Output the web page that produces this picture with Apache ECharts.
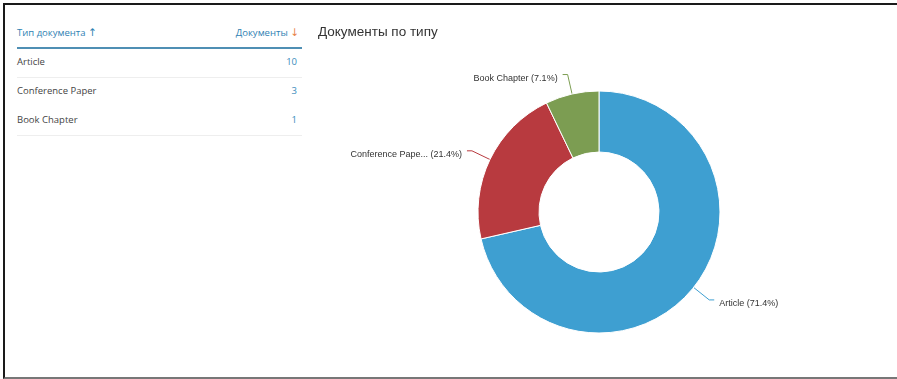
<!DOCTYPE html>
<html>
<head>
<meta charset="utf-8">
<script src="https://cdn.jsdelivr.net/npm/echarts@6/dist/echarts.min.js"></script>
<style>
  html, body { margin: 0; padding: 0; background: #fff; }
  body { width: 897px; height: 379px; position: relative; overflow: hidden; }
  .frame {
    position: absolute; left: 3px; top: 3px; width: 895px; height: 376px;
    border-left: 2px solid #1a1a1a; border-top: 2px solid #1a1a1a;
    border-bottom: 2px solid #777; box-sizing: border-box;
  }
  #chart { position: absolute; left: 0; top: 0; width: 897px; height: 379px; }
  .tbl {
    position: absolute; left: 17px; top: 23px; width: 285px;
    font-family: "Open Sans", "Noto Sans", sans-serif; font-size: 9.5px; color: #444;
  }
  .tbl .head {
    display: flex; justify-content: space-between; color: #2f82b3;
    height: 24px; line-height: 18px; border-bottom: 2px solid #4f8fb4; padding-right: 3px;
  }
  .tbl .head .arrow { font-family: "DejaVu Sans", sans-serif; font-size: 10.5px; }
  .tbl .head .arrow-up { color: #2f82b3; }
  .tbl .head .arrow-down { color: #e8834a; }
  .tbl .row {
    display: flex; justify-content: space-between; height: 29px; line-height: 26px;
    padding-bottom: 3px; padding-right: 5px; box-sizing: border-box;
  }
  .tbl .row .num { color: #3a8cbc; }
  .tbl .row.sep { border-bottom: 1px solid #eeeeee; }
</style>
</head>
<body>
<div class="frame"></div>
<div class="tbl" id="tbl"></div>
<div id="chart"></div>
<script>
// Document types and their counts
const docTypes = ['Article', 'Conference Paper', 'Book Chapter'];
const docCounts = [10, 3, 1];
const sliceColors = ['#3e9fd1', '#b83a3f', '#7c9d52'];

const headerType = 'Тип документа';
const headerCount = 'Документы';
const chartTitle = 'Документы по типу';

// Table on the left
const tbl = document.getElementById('tbl');
let html = '<div class="head"><span>' + headerType + ' <span class="arrow arrow-up">&#8593;</span></span>' +
           '<span>' + headerCount + ' <span class="arrow arrow-down">&#8595;</span></span></div>';
docTypes.forEach((name, i) => {
  const sep = (i !== 1) ? ' sep' : '';
  html += '<div class="row' + sep + '"><span>' + name + '</span><span class="num">' + docCounts[i] + '</span></div>';
});
tbl.innerHTML = html;

// Donut chart
const chart = echarts.init(document.getElementById('chart'), null, { renderer: 'canvas' });
const total = docCounts.reduce((a, b) => a + b, 0);
const shortName = n => n.length > 15 ? n.slice(0, 15) + '...' : n;

chart.setOption({
  animation: false,
  title: {
    text: chartTitle, left: 313, top: 20,
    textStyle: { fontFamily: 'Liberation Sans, Arial, sans-serif', fontSize: 13.5, fontWeight: 'normal', color: '#333' }
  },
  series: [{
    type: 'pie',
    center: [599, 212],
    radius: [60, 121],
    startAngle: 90,
    clockwise: true,
    avoidLabelOverlap: true,
    itemStyle: { borderColor: '#fff', borderWidth: 1 },
    label: {
      fontFamily: 'Liberation Sans, Arial, sans-serif', fontSize: 9, color: '#333',
      formatter: p => shortName(p.name) + ' (' + (p.value / total * 100).toFixed(1) + '%)'
    },
    labelLine: { length: 20, length2: 5, lineStyle: { width: 1 } },
    // text sits a little below the end of its leader line
    labelLayout: { dy: 4 },
    data: docTypes.map((n, i) => ({ name: n, value: docCounts[i], itemStyle: { color: sliceColors[i] } }))
  }]
});
</script>
</body>
</html>
